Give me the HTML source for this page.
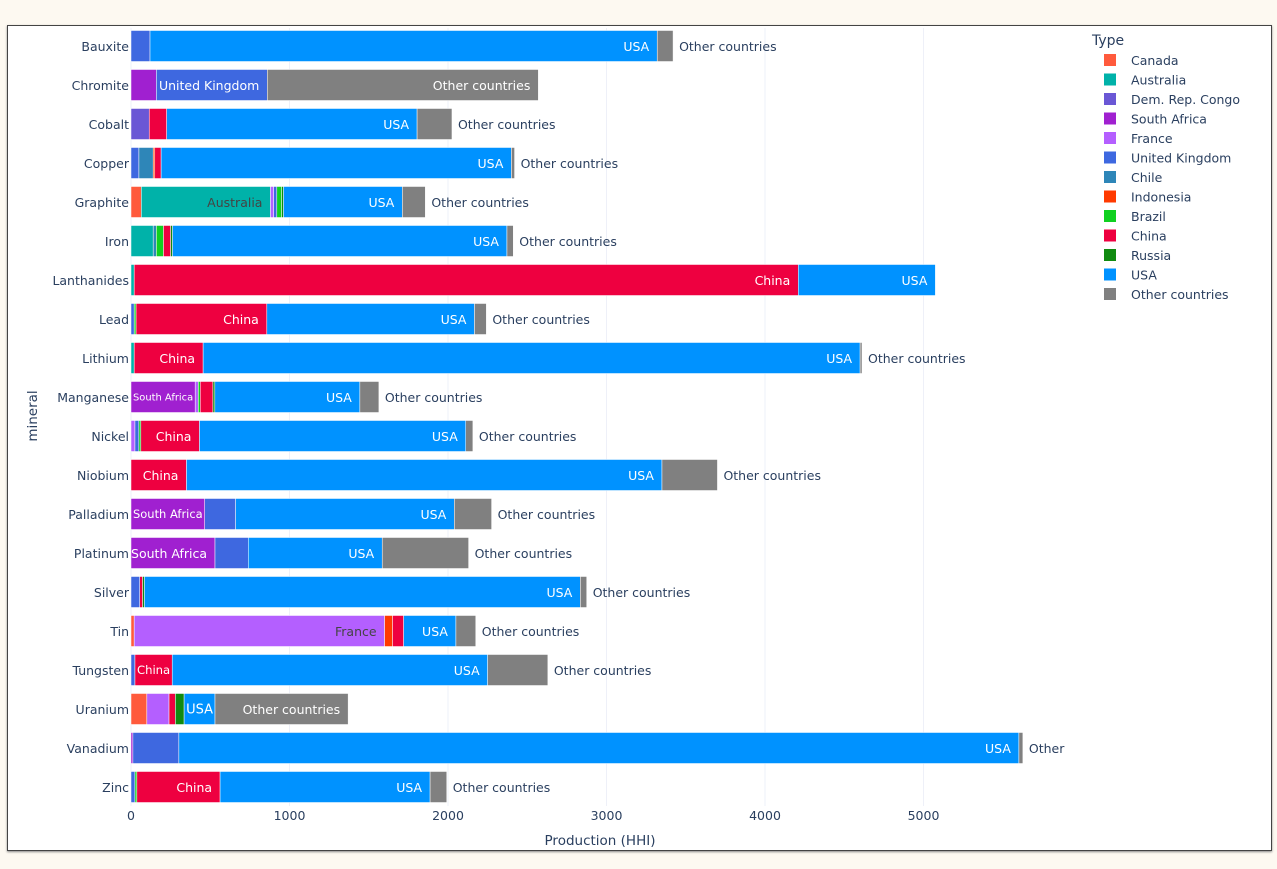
<!DOCTYPE html>
<html><head><meta charset="utf-8">
<style>
html,body{margin:0;padding:0;background:#fdf9f1;}
#wrap{position:relative;width:1277px;height:869px;overflow:hidden;}
#frame{position:absolute;left:7px;top:25px;width:1263px;height:824px;background:#fff;border:1px solid #444;box-shadow:0 1px 2px #888;}
svg{position:absolute;left:0;top:0;}
text{font-family:"DejaVu Sans","Liberation Sans",sans-serif;}
</style></head>
<body>
<div id="wrap">
<div id="frame"></div>
<svg id="chart" width="1277" height="869"></svg>
</div>
<script>
const minerals = ["Bauxite","Chromite","Cobalt","Copper","Graphite","Iron","Lanthanides","Lead","Lithium","Manganese","Nickel","Niobium","Palladium","Platinum","Silver","Tin","Tungsten","Uranium","Vanadium","Zinc"];
const countries = ["Canada","Australia","Dem. Rep. Congo","South Africa","France","United Kingdom","Chile","Indonesia","Brazil","China","Russia","USA","Other countries"];
const colors = ["#FF5A3C","#00B2A9","#6A57D5","#A020D0","#B45FFF","#3E68E0","#2E86B8","#FF3A00","#10D020","#EE0040","#108A10","#0092FF","#808080"];
// values per country (in mineral order)
const canada     = [0,0,0,0,65,0,0,0,0,0,0,0,0,0,0,20,0,100,0,0];
const australia  = [0,0,0,0,815,140,20,0,20,0,0,0,0,0,0,0,0,0,0,0];
const drc        = [0,0,115,0,0,0,0,0,0,0,0,0,0,0,0,0,0,0,0,0];
const southAfrica= [0,160,0,0,0,0,0,0,0,405,0,0,465,530,0,0,0,0,12,0];
const france     = [0,0,0,0,20,0,0,0,0,20,25,0,0,0,0,1580,0,140,0,0];
const uk         = [120,700,0,50,20,0,0,20,0,0,25,0,195,210,55,0,25,0,290,25];
const chile      = [0,0,0,90,0,20,0,0,0,0,0,0,0,0,0,0,0,0,0,0];
const indonesia  = [0,0,0,10,0,0,0,0,0,0,0,0,0,0,0,50,0,0,0,0];
const brazil     = [0,0,0,0,30,45,0,12,0,12,12,0,0,0,0,0,0,0,0,12];
const china      = [0,0,110,40,0,45,4190,825,435,80,370,350,0,0,18,70,235,40,0,525];
const russia     = [0,0,0,0,12,12,0,0,0,12,0,0,0,0,12,0,0,55,0,0];
const usa        = [3200,0,1580,2210,750,2110,865,1310,4145,915,1680,3000,1380,845,2750,330,1990,195,5300,1325];
const other      = [100,1710,220,20,145,40,0,75,12,120,45,350,235,545,40,125,380,840,25,105];
const seriesValues = [canada,australia,drc,southAfrica,france,uk,chile,indonesia,brazil,china,russia,usa,other];
const xTicks = [0,1000,2000,3000,4000,5000];

const svg = document.getElementById('chart');
const NS = 'http://www.w3.org/2000/svg';
const X0 = 131, XSCALE = 0.1585, PLOT_RIGHT = 1080;
const ROW0 = 46, ROWSTEP = 39, BARH = 31;
const FS = 12.5;
function xPos(v){ return X0 + v*XSCALE; }
function yPos(i){ return ROW0 + i*ROWSTEP; }
function mk(tag, attrs){ const e=document.createElementNS(NS,tag); for(const k in attrs) e.setAttribute(k,attrs[k]); svg.appendChild(e); return e; }
const meas = document.createElement('canvas').getContext('2d');
function tw(t,size){ meas.font=size+'px "DejaVu Sans", sans-serif'; return meas.measureText(t).width; }

// grid
xTicks.forEach(t=>{
  const g = mk('line',{x1:xPos(t),x2:xPos(t),y1:28,y2:806,stroke:'#EEF0F8','stroke-width':1});
  
  
  const lb = mk('text',{x:xPos(t),y:820,'text-anchor':'middle','font-size':FS,fill:'#2a3f5f'});
  lb.textContent = t;
  
  
});

// bars
minerals.forEach((m,i)=>{
  const yc = yPos(i);
  const lab = mk('text',{x:X0-2,y:yc+5,'text-anchor':'end','font-size':FS,fill:'#2a3f5f'});
  lab.textContent = m;
  
  
  let acc = 0;
  let lastIdx = -1;
  seriesValues.forEach((s,k)=>{ if(s[i]>0) lastIdx=k; });
  seriesValues.forEach((s,k)=>{
    const v = s[i];
    if(!(v>0)) return;
    const x1 = xPos(acc), x2 = xPos(acc+v);
    acc += v;
    const r = mk('rect',{x:x1,y:yc-BARH/2,width:Math.max(x2-x1,0.5),height:BARH,fill:colors[k],stroke:'#fff','stroke-width':0.5});
    
    
    const name = countries[k];
    const w = x2-x1;
    const dark = (k===1||k===4);
    const wt = tw(name,FS);
    let t = null;
    if(wt+8 <= w){
      t = mk('text',{x:x2-8,y:yc+5,'text-anchor':'end','font-size':FS,fill:dark?'#444':'#fff'});
      t.textContent = name;
    } else if(k===lastIdx){
      let txt = name;
      if(x2+4+wt > PLOT_RIGHT) txt = 'Other';
      t = mk('text',{x:x2+6,y:yc+5,'text-anchor':'start','font-size':FS,fill:'#2a3f5f'});
      t.textContent = txt;
    } else {
      const sz = FS*(w-4)/wt;
      if(sz>=8){
        t = mk('text',{x:(x1+x2)/2,y:yc+sz*0.35,'text-anchor':'middle','font-size':sz,fill:'#fff'});
        t.textContent = name;
      }
    }
    if(t){
      
      
    }
  });
});

// axis titles
const xt = mk('text',{x:600,y:845,'text-anchor':'middle','font-size':13.5,fill:'#2a3f5f'});
xt.textContent = 'Production (HHI)';


const yt = mk('text',{x:37,y:416,'text-anchor':'middle','font-size':13.5,fill:'#2a3f5f',transform:'rotate(-90 37 416)'});
yt.textContent = 'mineral';



// legend
const lt = mk('text',{x:1092,y:45,'font-size':14,fill:'#2a3f5f'});
lt.textContent = 'Type';


countries.forEach((c,k)=>{
  const y = 60 + k*19.5;
  const sw = mk('rect',{x:1104,y:y-6,width:12,height:12,fill:colors[k]});
  
  
  const tx = mk('text',{x:1131,y:y+5,'font-size':FS,fill:'#2a3f5f'});
  tx.textContent = c;
  
  
});
</script>
</body></html>
